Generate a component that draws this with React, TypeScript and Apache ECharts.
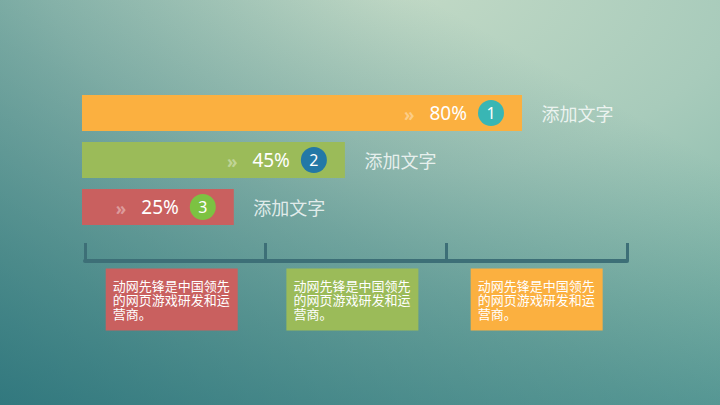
import React, { useEffect, useRef } from "react";
import * as echarts from "echarts";

// ---- data ----
const categories = ["1", "2", "3"];
const percentLabels = [80, 45, 25];
// drawn bar lengths on a 0–100 axis, as measured in the picture
const barLengths = [80, 47.8, 27.6];
const rightLabels = ["添加文字", "添加文字", "添加文字"];
const barColors = ["#fbb040", "#9bbb59", "#c9605f"];
const circleColors = ["#39b6b4", "#2378a6", "#7cc242"];

const timelineTicks = [0, 1, 2, 3];
const boxPositions = [0.48, 1.48, 2.5];
const boxColors = ["#c9605f", "#9bbb59", "#fbb040"];
const boxTexts = [
  "动网先锋是中国领先\n的网页游戏研发和运\n营商。",
  "动网先锋是中国领先\n的网页游戏研发和运\n营商。",
  "动网先锋是中国领先\n的网页游戏研发和运\n营商。",
];

const FONT = "'Noto Sans', 'Noto Sans CJK SC', sans-serif";
const CJK = "'Noto Sans CJK SC', 'Noto Sans', sans-serif";

export default function App() {
  const ref = useRef<HTMLDivElement>(null);

  useEffect(() => {
    if (!ref.current) return;
    const chart = echarts.init(ref.current, undefined, { renderer: "svg" });

    const rich: any = {
      chev: {
        fontSize: 17,
        fontWeight: "bold",
        color: "rgba(255,255,255,0.38)",
        padding: [3, 15, 0, 0],
        fontFamily: FONT,
      },
      pct: {
        fontSize: 19,
        color: "#ffffff",
        padding: [0, 11, 0, 0],
        fontFamily: FONT,
      },
    };
    circleColors.forEach((c, i) => {
      rich["num" + i] = {
        width: 26,
        height: 26,
        lineHeight: 26,
        borderRadius: 13,
        backgroundColor: c,
        color: "#ffffff",
        fontSize: 16,
        align: "center",
        fontFamily: FONT,
      };
    });

    const option: any = {
      animation: false,
      backgroundColor: new echarts.graphic.RadialGradient(0.55, -0.05, 1.6, [
        { offset: 0, color: "#c3dac6" },
        { offset: 0.3, color: "#a8cbbb" },
        { offset: 0.55, color: "#84b8aa" },
        { offset: 0.8, color: "#62a59e" },
        { offset: 1, color: "#55a09a" },
      ]),
      graphic: {
        elements: [
          {
            type: "rect",
            z: -100,
            silent: true,
            shape: { x: 0, y: 0, width: 720, height: 405 },
            style: {
              fill: new echarts.graphic.LinearGradient(0, 1, 1, 0, [
                { offset: 0, color: "rgba(15,90,105,0.62)" },
                { offset: 0.45, color: "rgba(15,90,105,0.3)" },
                { offset: 0.8, color: "rgba(15,90,105,0)" },
              ]),
            },
          },
        ],
      },
      grid: [
        { left: 82, top: 89.5, width: 550, height: 141 },
        { left: 85, top: 200, width: 542, height: 61 },
      ],
      xAxis: [
        {
          gridIndex: 0,
          type: "value",
          min: 0,
          max: 100,
          show: false,
        },
        {
          gridIndex: 1,
          type: "value",
          min: 0,
          max: timelineTicks[timelineTicks.length - 1],
          interval: 1,
          axisLine: { show: true, lineStyle: { color: "#3d6f77", width: 4 } },
          axisTick: {
            show: true,
            inside: true,
            length: 18,
            lineStyle: { color: "#3d6f77", width: 3 },
          },
          axisLabel: { show: false },
          splitLine: { show: false },
        },
      ],
      yAxis: [
        {
          gridIndex: 0,
          type: "category",
          inverse: true,
          data: categories,
          show: false,
        },
        { gridIndex: 1, type: "value", min: 0, max: 1, show: false },
      ],
      series: [
        {
          type: "bar",
          xAxisIndex: 0,
          yAxisIndex: 0,
          barWidth: 36,
          data: barLengths.map((v, i) => ({
            value: v,
            itemStyle: { color: barColors[i] },
          })),
          label: {
            show: true,
            position: "insideRight",
            distance: 18,
            formatter: (p: any) =>
              `{chev|»}{pct|${percentLabels[p.dataIndex]}%}{num${p.dataIndex}|${categories[p.dataIndex]}}`,
            rich,
          },
        },
        {
          type: "scatter",
          xAxisIndex: 0,
          yAxisIndex: 0,
          symbolSize: 1,
          itemStyle: { color: "rgba(0,0,0,0)" },
          data: barLengths.map((v, i) => [v, i]),
          label: {
            show: true,
            position: "right",
            distance: 19,
            color: "#ffffff",
            fontSize: 18,
            fontFamily: CJK,
            formatter: (p: any) => rightLabels[p.dataIndex],
          },
        },
        {
          type: "scatter",
          xAxisIndex: 1,
          yAxisIndex: 1,
          clip: false,
          symbol: "rect",
          symbolSize: [132, 62],
          symbolOffset: [0, 38.5],
          data: boxPositions.map((x, i) => ({
            value: [x, 0],
            itemStyle: { color: boxColors[i], opacity: 1 },
          })),
          label: {
            show: true,
            position: [7, 10],
            align: "left",
            verticalAlign: "top",
            color: "#ffffff",
            fontSize: 13,
            lineHeight: 14,
            fontFamily: CJK,
            formatter: (p: any) => boxTexts[p.dataIndex],
          },
        },
      ],
    };

    chart.setOption(option);
    return () => chart.dispose();
  }, []);

  return (
    <div
      ref={ref}
      style={{ position: "absolute", left: 0, top: 0, width: 720, height: 405 }}
    />
  );
}
